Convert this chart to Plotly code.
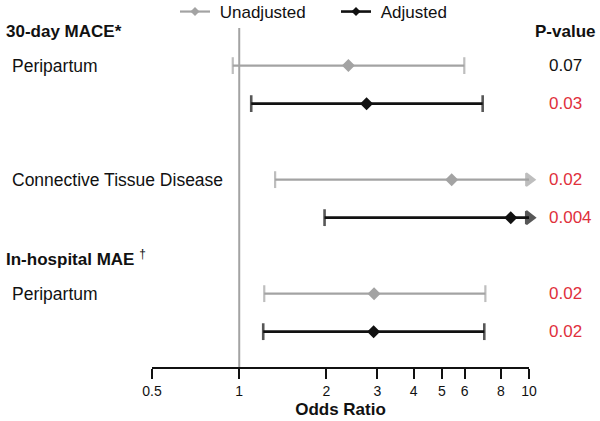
import plotly.graph_objects as go

# ---------------- data ----------------
row_labels = ["Peripartum", "Connective Tissue Disease", "Peripartum"]
groups = ["Unadjusted", "Adjusted"]
# one entry per (outcome/condition) block; unadjusted then adjusted
or_unadj = [2.38, 5.41, 2.92]
lo_unadj = [0.95, 1.33, 1.22]
hi_unadj = [5.98, None, 7.07]      # None -> CI extends beyond plotted range (arrow)
or_adj = [2.75, 8.65, 2.91]
lo_adj = [1.10, 1.97, 1.21]
hi_adj = [6.92, None, 7.01]
p_unadj = ["0.07", "0.02", "0.02"]
p_adj = ["0.03", "0.004", "0.02"]
p_sig = [[False, True, True], [True, True, True]]
headers = ["30-day MACE*", "In-hospital MAE"]
tick_vals = [0.5, 1, 2, 3, 4, 5, 6, 8, 10]
tick_text = ["0.5", "1", "2", "3", "4", "5", "6", "8", "10"]

# ---------------- layout geometry ----------------
W, H = 600, 421
ML, MR, MT, MB = 152, 71, 28, 54
X_MIN, X_MAX = 0.5, 10
Y_TOP, Y_BOT = -0.99, 7.93
row_unadj = [0, 3, 6]
row_adj = [1, 4, 7]
header_rows = [-0.9, 5.05]

FONT = "Liberation Sans, Arial, sans-serif"
GREY = "#a3a3a3"
BLACK = "#111111"
RED = "#e0303c"

def px_to_paper_x(px):
    return (px - ML) / (W - ML - MR)

def px_to_paper_y(py):
    return (H - MB - py) / (H - MT - MB)

fig = go.Figure()

# reference line at OR = 1
fig.add_trace(go.Scatter(x=[1, 1], y=[Y_TOP, Y_BOT], mode="lines",
                         line=dict(color=GREY, width=2), showlegend=False,
                         hoverinfo="skip"))

def add_group(name, color, lw, ors, los, his, rows):
    xs, ys, syms = [], [], []
    for o, lo, hi, r in zip(ors, los, his, rows):
        end = hi if hi is not None else X_MAX
        xs += [lo, end, None]
        ys += [r, r, None]
        syms += ["line-ns", "line-ns" if hi is not None else "triangle-right", "line-ns"]
    fig.add_trace(go.Scatter(
        x=xs, y=ys, mode="lines+markers",
        line=dict(color=color, width=lw),
        marker=dict(symbol=syms, size=[12 if s == "line-ns" else 11 for s in syms],
                    color=color, line=dict(color=color, width=lw)),
        showlegend=False, cliponaxis=False, hoverinfo="skip", legendgroup=name))
    fig.add_trace(go.Scatter(
        x=ors, y=rows, mode="markers",
        marker=dict(symbol="diamond", size=10, color=color),
        showlegend=False, cliponaxis=False, legendgroup=name, name=name))
    # legend entry
    fig.add_trace(go.Scatter(
        x=[None], y=[None], mode="lines+markers",
        name="\u00a0" + name, legendgroup=name,
        line=dict(color=color, width=lw),
        marker=dict(symbol="diamond", size=7, color=color)))

add_group("Unadjusted", GREY, 2.2, or_unadj, lo_unadj, hi_unadj, row_unadj)
add_group("Adjusted", BLACK, 2.6, or_adj, lo_adj, hi_adj, row_adj)

ann = []
# headers
ann.append(dict(x=px_to_paper_x(4), xref="paper", y=header_rows[0], yref="y",
                text="<b>" + headers[0] + "</b>", xanchor="left", yanchor="middle",
                showarrow=False, font=dict(size=17, color=BLACK, family=FONT)))
ann.append(dict(x=px_to_paper_x(4), xref="paper", y=header_rows[1], yref="y",
                text="<b>" + headers[1] + "</b> <sup>†</sup>", xanchor="left", yanchor="middle",
                showarrow=False, font=dict(size=17, color=BLACK, family=FONT)))
ann.append(dict(x=px_to_paper_x(565), xref="paper", y=header_rows[0], yref="y",
                text="<b>P-value</b>", xanchor="center", yanchor="middle",
                showarrow=False, font=dict(size=17, color=BLACK, family=FONT)))
# row labels
for lab, r in zip(row_labels, row_unadj):
    ann.append(dict(x=px_to_paper_x(10), xref="paper", y=r, yref="y", text=lab,
                    xanchor="left", yanchor="middle", showarrow=False,
                    font=dict(size=17.5, color=BLACK, family=FONT)))
# p-values
for gi, (pv, rows) in enumerate([(p_unadj, row_unadj), (p_adj, row_adj)]):
    for i, (p, r) in enumerate(zip(pv, rows)):
        ann.append(dict(x=px_to_paper_x(547), xref="paper", y=r, yref="y", text=p,
                        xanchor="left", yanchor="middle", showarrow=False,
                        font=dict(size=17, color=RED if p_sig[gi][i] else BLACK, family=FONT)))

fig.update_layout(
    width=W, height=H,
    margin=dict(l=ML, r=MR, t=MT, b=MB, pad=0, autoexpand=False),
    paper_bgcolor="white", plot_bgcolor="white",
    font=dict(family=FONT, color=BLACK),
    annotations=ann,
    legend=dict(orientation="h", x=px_to_paper_x(175), xanchor="left",
                y=px_to_paper_y(12), yanchor="middle",
                font=dict(size=17, family=FONT, color=BLACK),
                entrywidth=116, bgcolor="rgba(0,0,0,0)"),
    xaxis=dict(type="log", range=[0.30103 * -1, 1], tickmode="array",
               tickvals=tick_vals, ticktext=tick_text,
               showline=True, linecolor=BLACK, linewidth=1.5,
               ticks="outside", ticklen=10, tickwidth=1.5, tickcolor=BLACK,
               showgrid=False, zeroline=False,
               tickfont=dict(size=14, family=FONT, color=BLACK),
               title=dict(text="<b>Odds Ratio</b>", font=dict(size=17, family=FONT, color=BLACK),
                          standoff=6)),
    yaxis=dict(range=[Y_BOT, Y_TOP], visible=False, showgrid=False, zeroline=False),
    showlegend=True,
)

fig.write_html("out.html", config={"displayModeBar": False},
               post_script="document.body.style.margin='0';document.body.style.padding='0';")
